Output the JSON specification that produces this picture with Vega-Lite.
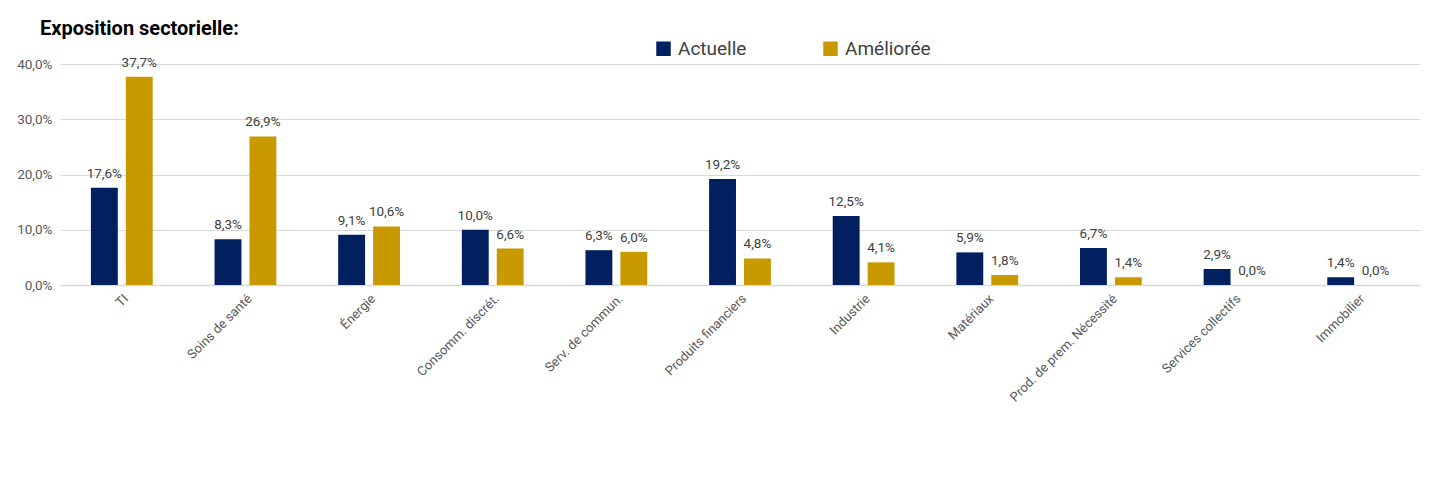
{
  "$schema": "https://vega.github.io/schema/vega-lite/v6.json",
  "width": 1360,
  "height": 221,
  "autosize": {"type": "none"},
  "padding": {"left": 60, "top": 64, "right": 19, "bottom": 193},
  "background": "white",
  "title": {
    "text": "Exposition sectorielle:",
    "anchor": "start",
    "frame": "group",
    "dx": -20,
    "dy": 16,
    "fontSize": 20,
    "fontWeight": "bold",
    "font": "Roboto",
    "color": "#000000",
    "offset": 16
  },
  "data": {
    "values": [
      {"secteur": "TI", "serie": "Actuelle", "valeur": 0.176},
      {"secteur": "TI", "serie": "Améliorée", "valeur": 0.377},
      {"secteur": "Soins de santé", "serie": "Actuelle", "valeur": 0.083},
      {"secteur": "Soins de santé", "serie": "Améliorée", "valeur": 0.269},
      {"secteur": "Énergie", "serie": "Actuelle", "valeur": 0.091},
      {"secteur": "Énergie", "serie": "Améliorée", "valeur": 0.106},
      {"secteur": "Consomm. discrét.", "serie": "Actuelle", "valeur": 0.100},
      {"secteur": "Consomm. discrét.", "serie": "Améliorée", "valeur": 0.066},
      {"secteur": "Serv. de commun.", "serie": "Actuelle", "valeur": 0.063},
      {"secteur": "Serv. de commun.", "serie": "Améliorée", "valeur": 0.060},
      {"secteur": "Produits financiers", "serie": "Actuelle", "valeur": 0.192},
      {"secteur": "Produits financiers", "serie": "Améliorée", "valeur": 0.048},
      {"secteur": "Industrie", "serie": "Actuelle", "valeur": 0.125},
      {"secteur": "Industrie", "serie": "Améliorée", "valeur": 0.041},
      {"secteur": "Matériaux", "serie": "Actuelle", "valeur": 0.059},
      {"secteur": "Matériaux", "serie": "Améliorée", "valeur": 0.018},
      {"secteur": "Prod. de prem. Nécessité", "serie": "Actuelle", "valeur": 0.067},
      {"secteur": "Prod. de prem. Nécessité", "serie": "Améliorée", "valeur": 0.014},
      {"secteur": "Services collectifs", "serie": "Actuelle", "valeur": 0.029},
      {"secteur": "Services collectifs", "serie": "Améliorée", "valeur": 0.0},
      {"secteur": "Immobilier", "serie": "Actuelle", "valeur": 0.014},
      {"secteur": "Immobilier", "serie": "Améliorée", "valeur": 0.0}
    ]
  },
  "encoding": {
    "x": {
      "field": "secteur",
      "type": "nominal",
      "sort": null,
      "scale": {"paddingInner": 0.5, "paddingOuter": 0.25},
      "axis": {
        "title": null,
        "labelAngle": -45,
        "labelAlign": "right",
        "labelBaseline": "top",
        "labelFontSize": 13,
        "labelColor": "#595959",
        "labelFont": "Roboto",
        "labelPadding": 7,
        "ticks": false,
        "domainColor": "#d9d9d9",
        "domainWidth": 1.5,
        "grid": false
      }
    },
    "xOffset": {
      "field": "serie",
      "type": "nominal",
      "scale": {"paddingInner": 0.23, "paddingOuter": 0}
    },
    "y": {
      "field": "valeur",
      "type": "quantitative",
      "scale": {"domain": [0, 0.4], "nice": false},
      "axis": {
        "title": null,
        "values": [0, 0.1, 0.2, 0.3, 0.4],
        "format": ".1%",
        "labelFontSize": 13.5,
        "labelColor": "#595959",
        "labelFont": "Roboto",
        "labelPadding": 8,
        "domain": false,
        "ticks": false,
        "gridColor": "#d9d9d9",
        "gridWidth": 1.2
      }
    }
  },
  "layer": [
    {
      "mark": {"type": "bar"},
      "encoding": {
        "color": {
          "field": "serie",
          "type": "nominal",
          "scale": {"domain": ["Actuelle", "Améliorée"], "range": ["#002060", "#C99A00"]},
          "legend": {
            "title": null,
            "orient": "none",
            "direction": "horizontal",
            "legendX": 594,
            "legendY": -25,
            "symbolType": "square",
            "symbolSize": 210,
            "symbolStrokeWidth": 0,
            "labelFontSize": 19,
            "labelFont": "Roboto",
            "labelColor": "#404040",
            "columnPadding": 74,
            "labelOffset": 5
          }
        }
      }
    },
    {
      "mark": {"type": "text", "baseline": "bottom", "dy": -7, "fontSize": 13.5, "font": "Roboto", "color": "#404040"},
      "encoding": {
        "text": {"field": "valeur", "type": "quantitative", "format": ".1%"}
      }
    }
  ],
  "config": {
    "locale": {
      "number": {"decimal": ",", "thousands": " ", "grouping": [3], "currency": ["", " €"]}
    },
    "view": {"stroke": null}
  }
}
